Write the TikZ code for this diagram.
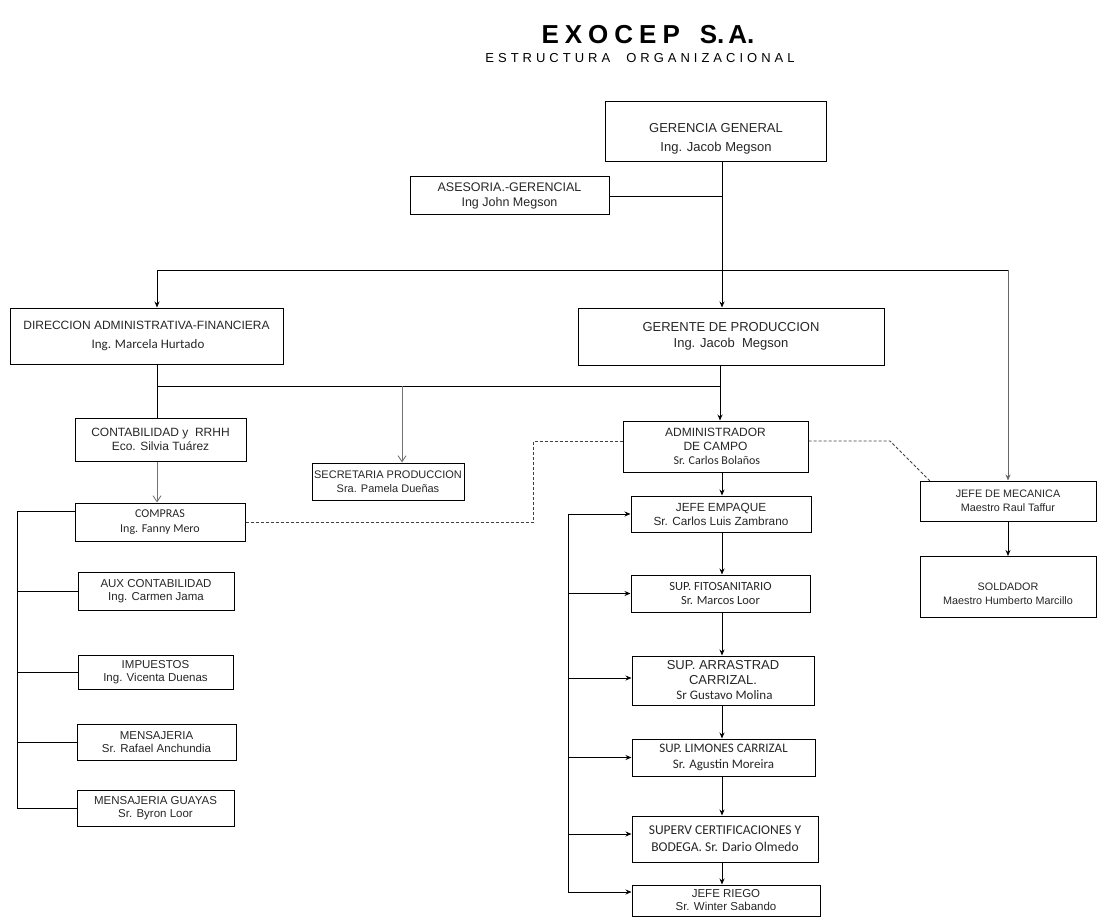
\documentclass[tikz,border=0pt]{standalone}
\usepackage{fontspec}
\setmainfont{Liberation Sans}
\newfontfamily\calf{Carlito}
\usetikzlibrary{arrows.meta,calc}
\newcommand\gs{\hspace{4pt}}
\newcommand\fs[2]{\fontsize{#1}{#2}\selectfont}
\begin{document}
\begin{tikzpicture}[x=1pt,y=-1pt,
  box/.style={draw=black,line width=1pt,rectangle,inner sep=0pt,align=center,text=black!85,font=\fs{11.5}{13.5}},
  bigbox/.style={box,font=\fs{13}{15.5}},
  cbox/.style={box,font=\calf\fs{12.5}{14.5}},
  ln/.style={line width=0.9pt,black},
  arr/.style={ln,-{Stealth[length=6pt,width=5pt]}},
  garr/.style={line width=0.9pt,black!55,-{Straight Barb[length=6pt,width=8pt]}},
  dsh/.style={line width=0.8pt,black!75,dash pattern=on 3pt off 2pt}]
\useasboundingbox (0,0) rectangle (1097,917);

\node[font=\bfseries\fs{26}{30}] (title) at (648,35)
  {E\hspace{6pt}X\hspace{6pt}O\hspace{6pt}C\hspace{6pt}E\hspace{6pt}P\hspace{20pt}S.\hspace{4pt}A.};
\node[font=\fs{13}{15}] (sub) at (640,58)
  {E\gs S\gs T\gs R\gs U\gs C\gs T\gs U\gs R\gs A\hspace{16pt}O\gs R\gs G\gs A\gs N\gs I\gs Z\gs A\gs C\gs I\gs O\gs N\gs A\gs L};

% boxes
\node[bigbox,font=\fs{13}{19},minimum width=221pt,minimum height=60pt] (gg) at (716,132) {\rule{0pt}{23pt}GERENCIA GENERAL\\Ing. Jacob Megson};
\node[box,font=\fs{12.5}{14.5},minimum width=199pt,minimum height=38pt] (ase) at (509.5,196) {ASESORIA.-GERENCIAL\\Ing John Megson};
\node[box,font=\fs{12}{14},minimum width=273pt,minimum height=56pt] (dir) at (146.5,336) {DIRECCION ADMINISTRATIVA-FINANCIERA\\[5pt]{\calf\fs{13}{15} Ing. Marcela Hurtado}};
\node[bigbox,minimum width=306pt,minimum height=57pt] (gp) at (731,336.5) {GERENTE DE PRODUCCION\\Ing. Jacob\ \ Megson};
\node[box,font=\fs{12}{14},minimum width=171pt,minimum height=43pt] (cont) at (160.5,439.5) {CONTABILIDAD y\ \ RRHH\\Eco. Silvia Tu\'arez};
\node[box,font=\fs{11}{13.5},minimum width=152pt,minimum height=37pt] (sec) at (388,481.5) {SECRETARIA PRODUCCION\\Sra. Pamela Due\~nas};
\node[box,font=\fs{12}{14},minimum width=185pt,minimum height=51pt] (adm) at (715.5,446.5) {ADMINISTRADOR\\DE CAMPO\\{\calf\fs{12}{14} Sr. Carlos Bola\~nos}};
\node[box,font=\fs{10.8}{13.5},minimum width=176pt,minimum height=40pt] (jm) at (1008,501) {JEFE DE MECANICA\\Maestro Raul Taffur};
\node[box,font=\fs{10.8}{14},minimum width=176pt,minimum height=61pt] (sold) at (1008,587) {\rule{0pt}{22pt}SOLDADOR\\Maestro Humberto Marcillo};

\node[cbox,font=\calf\fs{12}{14.5},minimum width=170pt,minimum height=38pt] (comp) at (160,522) {COMPRAS\\Ing. Fanny Mero};
\node[box,minimum width=156pt,minimum height=38pt] (aux) at (156,591) {AUX CONTABILIDAD\\Ing. Carmen Jama};
\node[box,minimum width=155pt,minimum height=34pt] (imp) at (155.5,672) {IMPUESTOS\\Ing. Vicenta Duenas};
\node[box,minimum width=159pt,minimum height=36pt] (mens) at (156.5,742) {MENSAJERIA\\Sr. Rafael Anchundia};
\node[box,minimum width=157pt,minimum height=36pt] (guay) at (155.5,808) {MENSAJERIA GUAYAS\\Sr. Byron Loor};

\node[box,font=\fs{11.8}{14},minimum width=180pt,minimum height=36pt] (emp) at (721,514) {JEFE EMPAQUE\\Sr. Carlos Luis Zambrano};
\node[cbox,minimum width=179pt,minimum height=37pt] (fito) at (720.5,593.5) {SUP. FITOSANITARIO\\Sr. Marcos Loor};
\node[box,font=\fs{13}{15},minimum width=182pt,minimum height=49pt] (arr) at (723,680.5) {SUP. ARRASTRAD\\CARRIZAL.\\{\calf\fs{13}{15} Sr Gustavo Molina}};
\node[cbox,font=\calf\fs{13}{15.5},minimum width=183pt,minimum height=37pt] (lim) at (723.5,757.5) {SUP. LIMONES CARRIZAL\\Sr. Agustin Moreira};
\node[cbox,font=\calf\fs{13.5}{16},minimum width=186pt,minimum height=46pt] (cert) at (725,839) {SUPERV CERTIFICACIONES Y\\[1pt]BODEGA. Sr. Dario Olmedo};
\node[box,font=\fs{11.5}{13},minimum width=188pt,minimum height=31pt] (rie) at (726,900.5) {JEFE RIEGO\\Sr. Winter Sabando};

% coordinates
\coordinate (t1) at (722,196);
\coordinate (t2) at (722,270);
\coordinate (hL) at (157,270);
\coordinate (hR) at (1008,270);
\coordinate (j1) at (157,386);
\coordinate (j2) at (720,386);
\coordinate (js) at (402,386);
\coordinate (dv) at (533,441);
\coordinate (dr1) at (890,441);
\coordinate (dr2) at (930,481);
\coordinate (lb1) at (17,511);
\coordinate (lb2) at (17,808);
\coordinate (rb1) at (568,514);
\coordinate (rb2) at (568,892);
\coordinate (col) at (722,0);

% top trunk
\draw[ln] (gg.south -| t2) -- (t2);
\draw[ln] (ase.east) -- (t1);
\draw[arr] (t2) -- (gp.north -| t2);
\draw[ln] (hL) -- (hR);
\draw[arr] (hL) -- (dir.north -| hL);
\draw[line width=0.9pt,black!60,-{Stealth[length=6pt,width=5pt]}] (hR) -- (jm.north);

% second level
\draw[ln] (dir.south -| j1) -- (cont.north -| j1);
\draw[ln] (j1) -- (j2);
\draw[arr] (gp.south -| j2) -- (adm.north -| j2);
\draw[garr] (js) -- (sec.north -| js);
\draw[garr] (cont.south -| j1) -- (comp.north -| j1);

% dashed links
\draw[dsh] (comp.east) -- (comp.east -| dv) -- (dv) -- (adm.west |- dv);
\draw[dsh] (adm.east |- dr1) -- (dr1) -- (dr2);

% right column
\draw[arr] (jm.south) -- (sold.north);

% left bracket
\draw[ln] (comp.west |- lb1) -- (lb1) -- (lb2) -- (guay.west |- lb2);
\draw[ln] (aux.west) -- (aux.west -| lb1);
\draw[ln] (imp.west) -- (imp.west -| lb1);
\draw[ln] (mens.west) -- (mens.west -| lb1);

% production column
\draw[arr] (adm.south -| col) -- (emp.north -| col);
\draw[arr] (emp.south -| col) -- (fito.north -| col);
\draw[arr] (fito.south -| col) -- (arr.north -| col);
\draw[arr] (arr.south -| col) -- (lim.north -| col);
\draw[arr] (lim.south -| col) -- (cert.north -| col);
\draw[arr] (cert.south -| col) -- (rie.north -| col);

% bracket of production column
\draw[ln] (rb1) -- (rb2);
\draw[arr] (rb1) -- (emp.west |- rb1);
\draw[arr] (rb1 |- fito.west) -- (fito.west);
\draw[arr] (rb1 |- 0,678) -- (arr.west |- 0,678);
\draw[arr] (rb1 |- lim.west) -- (lim.west);
\draw[arr] (rb1 |- 0,834) -- (cert.west |- 0,834);
\draw[arr] (rb2) -- (rie.west |- rb2);
\end{tikzpicture}
\end{document}
